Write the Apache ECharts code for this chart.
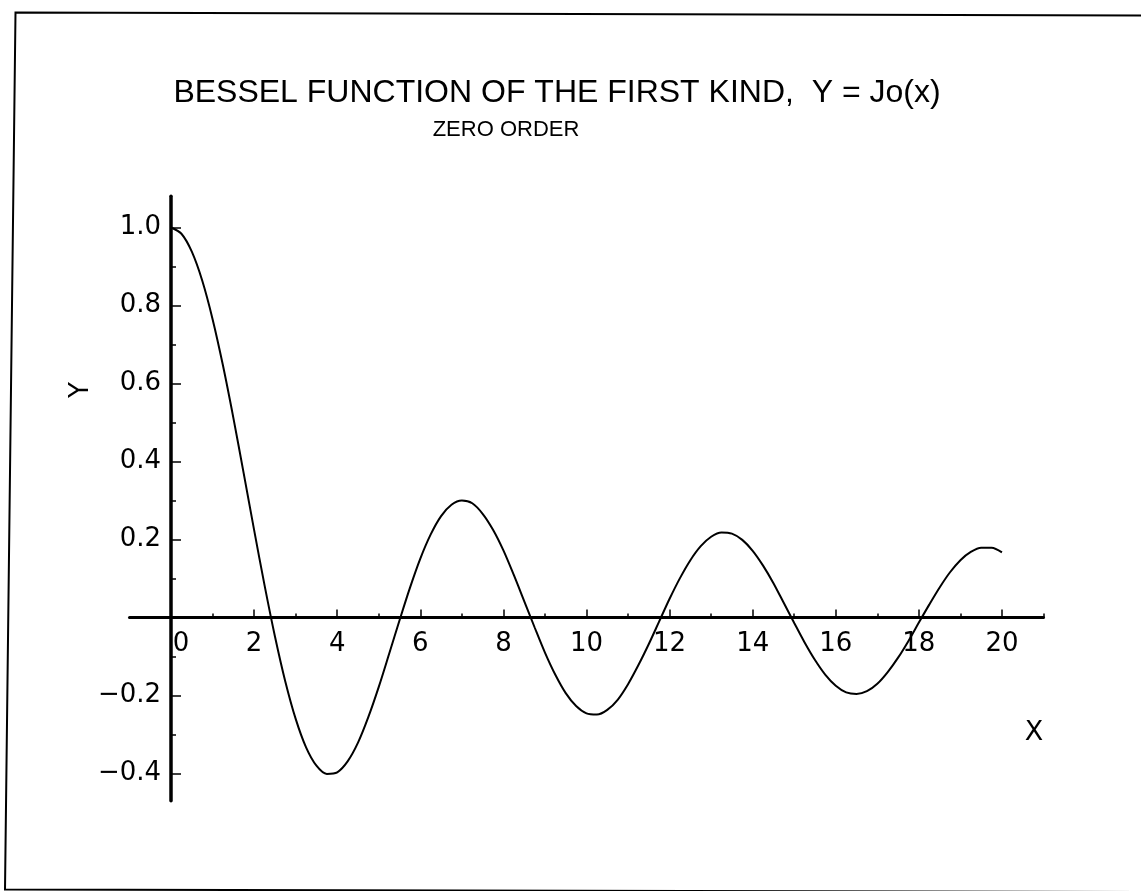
<!DOCTYPE html>
<html>
<head>
<meta charset="utf-8">
<title>Bessel function J0</title>
<script src="https://cdn.jsdelivr.net/npm/echarts@6/dist/echarts.min.js"></script>
<style>
  html, body { margin: 0; padding: 0; background: #fff; }
  #chart { width: 1141px; height: 891px; }
</style>
</head>
<body>
<div id="chart"></div>
<script>
// Sample points of J0(x), every 0.25 from 0 to 20
const xValues = [
  0, 0.25, 0.5, 0.75, 1, 1.25, 1.5, 1.75, 2, 2.25,
  2.5, 2.75, 3, 3.25, 3.5, 3.75, 4, 4.25, 4.5, 4.75,
  5, 5.25, 5.5, 5.75, 6, 6.25, 6.5, 6.75, 7, 7.25,
  7.5, 7.75, 8, 8.25, 8.5, 8.75, 9, 9.25, 9.5, 9.75,
  10, 10.25, 10.5, 10.75, 11, 11.25, 11.5, 11.75, 12, 12.25,
  12.5, 12.75, 13, 13.25, 13.5, 13.75, 14, 14.25, 14.5, 14.75,
  15, 15.25, 15.5, 15.75, 16, 16.25, 16.5, 16.75, 17, 17.25,
  17.5, 17.75, 18, 18.25, 18.5, 18.75, 19, 19.25, 19.5, 19.75, 20
];
const jValues = [
  1.000, 0.984, 0.938, 0.864, 0.765, 0.646, 0.512, 0.369, 0.224, 0.083,
  -0.048, -0.164, -0.260, -0.333, -0.380, -0.401, -0.397, -0.369, -0.321, -0.255,
  -0.178, -0.093, -0.007, 0.076, 0.151, 0.213, 0.260, 0.289, 0.300, 0.293,
  0.266, 0.225, 0.172, 0.109, 0.042, -0.025, -0.090, -0.147, -0.194, -0.227,
  -0.246, -0.249, -0.237, -0.211, -0.171, -0.122, -0.068, -0.010, 0.048, 0.101,
  0.147, 0.183, 0.207, 0.218, 0.215, 0.199, 0.171, 0.133, 0.088, 0.037,
  -0.014, -0.064, -0.109, -0.147, -0.175, -0.192, -0.196, -0.189, -0.170, -0.140,
  -0.103, -0.060, -0.013, 0.033, 0.077, 0.116, 0.147, 0.168, 0.179, 0.179, 0.167
];

// Tick positions
const xMajorTicks = [0, 2, 4, 6, 8, 10, 12, 14, 16, 18, 20];
const xMinorTicks = [1, 3, 5, 7, 9, 11, 13, 15, 17, 19, 21];
const yMajorTicks = [-0.4, -0.2, 0.2, 0.4, 0.6, 0.8, 1.0];
const yMinorTicks = [-0.3, -0.1, 0.1, 0.3, 0.5, 0.7, 0.9];

const titleText = 'BESSEL FUNCTION OF THE FIRST KIND,  Y = Jo(x)';
const subtitleText = 'ZERO ORDER';

const tickFont = 'DejaVu Sans';
const ink = '#000';

function fmtY(v) {
  const s = Math.abs(v).toFixed(1);
  return v < 0 ? '\u2212' + s : s;
}

const chart = echarts.init(document.getElementById('chart'), null, { renderer: 'canvas' });

const xRange = { min: -1, max: 21 };
const yRange = { min: -0.47, max: 1.08 };

// Plot rectangle
const gridBox = { left: 129.5, top: 196.3, width: 914, height: 604.5 };

// Put the axes through the origin by shifting them in from the grid edges
const xZeroPx = gridBox.left + (0 - xRange.min) / (xRange.max - xRange.min) * gridBox.width;
const yZeroPx = gridBox.top + (yRange.max - 0) / (yRange.max - yRange.min) * gridBox.height;
const xAxisOffset = -(gridBox.top + gridBox.height - yZeroPx);
const yAxisOffset = -(xZeroPx - gridBox.left);

const sharedX = {
  type: 'value',
  position: 'bottom',
  offset: xAxisOffset,
  min: xRange.min,
  max: xRange.max,
  splitLine: { show: false }
};
const sharedY = {
  type: 'value',
  position: 'left',
  offset: yAxisOffset,
  min: yRange.min,
  max: yRange.max,
  splitLine: { show: false }
};

chart.setOption({
  animation: false,
  backgroundColor: '#fff',
  grid: Object.assign({ containLabel: false }, gridBox),
  xAxis: [
    Object.assign({}, sharedX, {
      axisLine: { show: true, onZero: false, lineStyle: { color: ink, width: 3 } },
      axisTick: { show: true, inside: true, length: 8, customValues: xMajorTicks, lineStyle: { color: ink, width: 1.5 } },
      axisLabel: {
        show: true,
        customValues: xMajorTicks,
        margin: 14,
        color: ink,
        fontFamily: tickFont,
        fontSize: 26,
        formatter: function (v) { return v === 0 ? '{z|0}' : String(v); },
        rich: { z: { fontFamily: tickFont, fontSize: 26, color: ink, padding: [0, 0, 0, 20] } }
      }
    }),
    Object.assign({}, sharedX, {
      axisLine: { show: false, onZero: false },
      axisTick: { show: true, inside: true, length: 4, customValues: xMinorTicks, lineStyle: { color: ink, width: 1.5 } },
      axisLabel: { show: false }
    })
  ],
  yAxis: [
    Object.assign({}, sharedY, {
      axisLine: { show: true, onZero: false, lineStyle: { color: ink, width: 3.5 } },
      axisTick: { show: true, inside: true, length: 10, customValues: yMajorTicks, lineStyle: { color: ink, width: 1.5 } },
      axisLabel: {
        show: true,
        customValues: yMajorTicks,
        margin: 10,
        color: ink,
        fontFamily: tickFont,
        fontSize: 26,
        formatter: fmtY
      }
    }),
    Object.assign({}, sharedY, {
      axisLine: { show: false, onZero: false },
      axisTick: { show: true, inside: true, length: 5, customValues: yMinorTicks, lineStyle: { color: ink, width: 1.5 } },
      axisLabel: { show: false }
    })
  ],
  series: [{
    type: 'line',
    xAxisIndex: 0,
    yAxisIndex: 0,
    data: xValues.map((x, i) => [x, jValues[i]]),
    showSymbol: false,
    symbol: 'none',
    smooth: 0.3,
    lineStyle: { color: ink, width: 2 },
    z: 3
  }],
  graphic: [
    {
      type: 'polyline',
      silent: true,
      shape: { points: [[1150, 15.5], [15.5, 12.5], [5, 889.5], [1150, 892]] },
      style: { fill: null, stroke: ink, lineWidth: 2 }
    },
    {
      type: 'text',
      x: 557, y: 93.5,
      style: {
        text: titleText,
        font: '32px "Liberation Sans"',
        fill: ink,
        align: 'center',
        verticalAlign: 'middle'
      }
    },
    {
      type: 'text',
      x: 506, y: 130,
      style: {
        text: subtitleText,
        font: '22px "Liberation Sans"',
        fill: ink,
        align: 'center',
        verticalAlign: 'middle'
      }
    },
    {
      type: 'text',
      x: 81, y: 390,
      rotation: Math.PI / 2,
      style: {
        text: 'Y',
        font: '26px "DejaVu Sans"',
        fill: ink,
        align: 'center',
        verticalAlign: 'middle'
      }
    },
    {
      type: 'text',
      x: 1034, y: 733,
      style: {
        text: 'X',
        font: '27px "DejaVu Sans"',
        fill: ink,
        align: 'center',
        verticalAlign: 'middle'
      }
    }
  ]
});
</script>
</body>
</html>
